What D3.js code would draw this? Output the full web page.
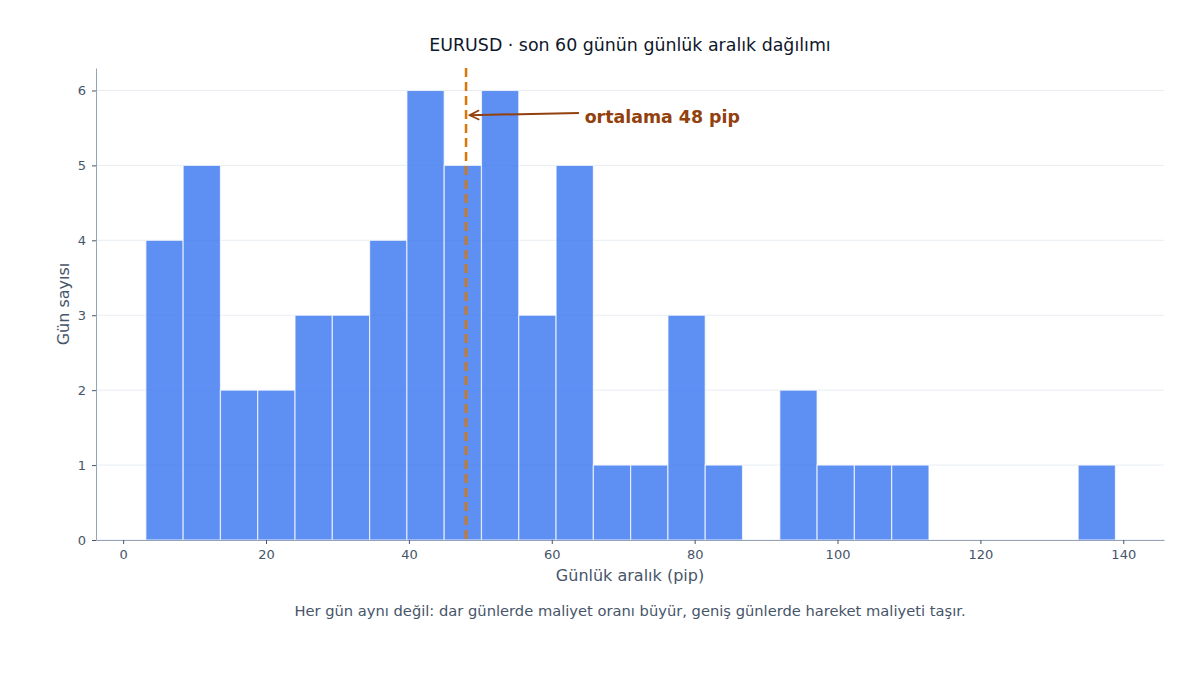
<!DOCTYPE html>
<html>
<head>
<meta charset="utf-8">
<script src="https://cdn.jsdelivr.net/npm/d3@7"></script>
<style>
	body { margin: 0; background: #fff; }
	svg { font-family: "DejaVu Sans", sans-serif; }
</style>
</head>
<body>
<script>
// Histogram of daily ranges
const width = 1200;
const height = 675;
const margin = {top: 68, right: 36, bottom: 135, left: 96};

const binStart = 3.18;
const binWidth = 5.22;
const counts = [4, 5, 2, 2, 3, 3, 4, 6, 5, 6, 3, 5, 1, 1, 3, 1, 0, 2, 1, 1, 1, 0, 0, 0, 0, 1];
const meanValue = 48;
const xTicks = [0, 20, 40, 60, 80, 100, 120, 140];
const yTicks = [0, 1, 2, 3, 4, 5, 6];

const titleText = 'EURUSD · son 60 günün günlük aralık dağılımı';
const xLabel = 'Günlük aralık (pip)';
const yLabel = 'Gün sayısı';
const noteText = 'ortalama 48 pip';
const captionText = 'Her gün aynı değil: dar günlerde maliyet oranı büyür, geniş günlerde hareket maliyeti taşır.';

const bins = counts.map((c, i) => ({
	x0: binStart + i * binWidth,
	x1: binStart + (i + 1) * binWidth,
	count: c
}));

const svg = d3.select('body')
	.append('svg')
	.attr('width', width)
	.attr('height', height);

let xScale = d3.scaleLinear()
	.domain([-3.8, 145.7])
	.range([margin.left, width - margin.right]);

let yScale = d3.scaleLinear()
	.domain([0, 6.3])
	.range([height - margin.bottom, margin.top]);

// grid
svg.append('g')
	.selectAll('line')
	.data(yTicks)
	.join('line')
	.attr('x1', margin.left).attr('x2', width - margin.right)
	.attr('y1', d => yScale(d)).attr('y2', d => yScale(d))
	.attr('stroke', '#e2e8f0')
	.attr('stroke-width', 0.8);

// bars
svg.append('g')
	.selectAll('rect')
	.data(bins.filter(d => d.count > 0))
	.join('rect')
	.attr('x', d => xScale(d.x0))
	.attr('y', d => yScale(d.count))
	.attr('width', d => xScale(d.x1) - xScale(d.x0))
	.attr('height', d => yScale(0) - yScale(d.count))
	.attr('fill', '#3b76f0')
	.attr('fill-opacity', 0.82)
	.attr('stroke', '#ffffff')
	.attr('stroke-opacity', 0.7)
	.attr('stroke-width', 1.2);

// axes
let xAxis = svg.append('g')
	.attr('transform', `translate(0, ${height - margin.bottom})`)
	.call(d3.axisBottom(xScale).tickValues(xTicks).tickFormat(d3.format('d'))
		.tickSize(4).tickPadding(6).tickSizeOuter(0));

let yAxis = svg.append('g')
	.attr('transform', `translate(${margin.left}, 0)`)
	.call(d3.axisLeft(yScale).tickValues(yTicks).tickFormat(d3.format('d'))
		.tickSize(4).tickPadding(6).tickSizeOuter(0));

[xAxis, yAxis].forEach(ax => {
	ax.select('.domain').attr('stroke', '#94a3b8').attr('stroke-width', 1);
	ax.selectAll('.tick line').attr('stroke', '#475569');
	ax.selectAll('.tick text')
		.attr('fill', '#475569')
		.style('font-size', '13px')
		.style('font-family', '"DejaVu Sans", sans-serif');
});

// mean line
svg.append('line')
	.attr('x1', xScale(meanValue)).attr('x2', xScale(meanValue))
	.attr('y1', margin.top).attr('y2', height - margin.bottom)
	.attr('stroke', '#d97706')
	.attr('stroke-width', 2.5)
	.attr('stroke-dasharray', '9,5');

// annotation arrow
svg.append('defs').append('marker')
	.attr('id', 'arrow')
	.attr('viewBox', '0 0 10 10')
	.attr('refX', 9).attr('refY', 5)
	.attr('markerWidth', 6).attr('markerHeight', 6)
	.attr('markerUnits', 'strokeWidth')
	.attr('orient', 'auto')
	.append('path')
	.attr('d', 'M1,1 L9,5 L1,9')
	.attr('fill', 'none')
	.attr('stroke', '#92400e')
	.attr('stroke-width', 1.4);

svg.append('line')
	.attr('x1', xScale(63.8)).attr('y1', yScale(5.7))
	.attr('x2', xScale(meanValue + 0.5)).attr('y2', yScale(5.67))
	.attr('stroke', '#92400e')
	.attr('stroke-width', 2)
	.attr('marker-end', 'url(#arrow)');

svg.append('text')
	.attr('x', xScale(64.6))
	.attr('y', yScale(5.57))
	.attr('fill', '#92400e')
	.style('font-size', '17.4px')
	.style('font-weight', 'bold')
	.text(noteText);

// labels
svg.append('text')
	.attr('x', 630).attr('y', 51)
	.attr('text-anchor', 'middle')
	.attr('fill', '#0f172a')
	.style('font-size', '17.4px')
	.text(titleText);

svg.append('text')
	.attr('x', (margin.left + width - margin.right) / 2).attr('y', 581)
	.attr('text-anchor', 'middle')
	.attr('fill', '#475569')
	.style('font-size', '16px')
	.text(xLabel);

svg.append('text')
	.attr('transform', `translate(69, ${(margin.top + height - margin.bottom) / 2}) rotate(-90)`)
	.attr('text-anchor', 'middle')
	.attr('fill', '#475569')
	.style('font-size', '16px')
	.text(yLabel);

svg.append('text')
	.attr('x', 630).attr('y', 616)
	.attr('text-anchor', 'middle')
	.attr('fill', '#475569')
	.style('font-size', '14.7px')
	.text(captionText);
</script>
</body>
</html>
